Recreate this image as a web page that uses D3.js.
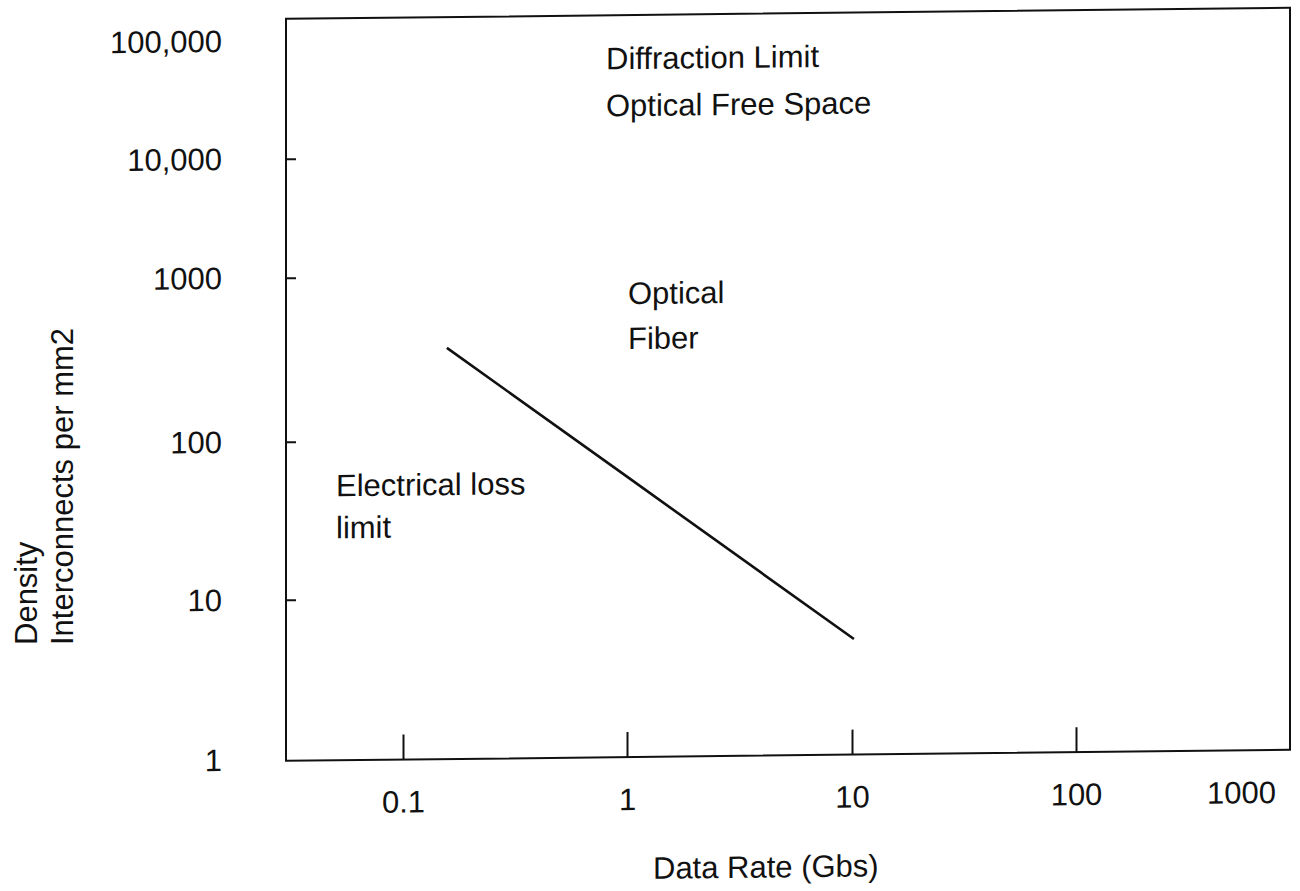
<!DOCTYPE html>
<html>
<head>
<meta charset="utf-8">
<script src="https://cdn.jsdelivr.net/npm/d3@7"></script>
<style>
  body { margin: 0; background: #fff; }
  svg text { font-family: "Liberation Sans", Arial, Helvetica, sans-serif; fill: #111; }
</style>
</head>
<body>
<div id="chart"></div>
<script>
// x axis: data rate (Gbs)
const xTickValues = [0.1, 1, 10, 100, 1000];
const xTickLabels = ["0.1", "1", "10", "100", "1000"];
const xTickMarks = [0.1, 1, 10, 100];

// y axis: interconnect density per mm2
const yTickValues = [1, 10, 100, 1000, 10000, 100000];
const yTickLabels = ["1", "10", "100", "1000", "10,000", "100,000"];
const yTickMarks = [10, 100, 1000, 10000];

// electrical loss limit line
const lineRate = [0.157, 1, 10.2];
const lineDensity = [365, 57, 5.2];

const annotations = [
  ["Diffraction Limit", "Optical Free Space"],
  ["Optical", "Fiber"],
  ["Electrical loss", "limit"]
];

const width = 1300, height = 891;
const box = { left: 286, right: 1290, top: 22, bottom: 764 };
const fontSize = 31;

const svg = d3.select("#chart").append("svg")
    .attr("width", width)
    .attr("height", height);

// the scanned page is slightly skewed
const g = svg.append("g").attr("transform", "skewY(-0.63)");

// hand-drawn axes: decades are not evenly spaced, so piecewise log scales
const x = d3.scaleLog()
    .domain(xTickValues)
    .range([403, 627, 852, 1076, 1241]);

const y = d3.scaleLog()
    .domain(yTickValues)
    .range([763, 603, 445, 281, 162, 44]);

// frame
g.append("rect")
    .attr("x", box.left)
    .attr("y", box.top)
    .attr("width", box.right - box.left)
    .attr("height", box.bottom - box.top)
    .attr("fill", "none")
    .attr("stroke", "#111")
    .attr("stroke-width", 2);

// x axis
const xAxis = g.append("g")
    .attr("transform", `translate(0,${box.bottom})`)
    .call(d3.axisBottom(x)
        .tickValues(xTickValues)
        .tickFormat((d, i) => xTickLabels[i])
        .tickSizeInner(-25)
        .tickSizeOuter(0)
        .tickPadding(31));
xAxis.select(".domain").remove();
xAxis.selectAll(".tick line")
    .attr("stroke", "#111")
    .attr("stroke-width", 2)
    .attr("display", d => xTickMarks.includes(d) ? null : "none");
xAxis.selectAll(".tick text")
    .attr("font-size", fontSize)
    .attr("fill", "#111");

// y axis
const yAxis = g.append("g")
    .attr("transform", `translate(${box.left},0)`)
    .call(d3.axisLeft(y)
        .tickValues(yTickValues)
        .tickFormat((d, i) => yTickLabels[i])
        .tickSizeInner(-10)
        .tickSizeOuter(0)
        .tickPadding(64));
yAxis.select(".domain").remove();
yAxis.selectAll(".tick line")
    .attr("stroke", "#111")
    .attr("stroke-width", 2)
    .attr("display", d => yTickMarks.includes(d) ? null : "none");
yAxis.selectAll(".tick text")
    .attr("font-size", fontSize)
    .attr("fill", "#111");

// limit line
const lineData = lineRate.map((r, i) => ({ rate: r, density: lineDensity[i] }));
g.append("path")
    .datum(lineData)
    .attr("fill", "none")
    .attr("stroke", "#111")
    .attr("stroke-width", 2.6)
    .attr("d", d3.line().x(d => x(d.rate)).y(d => y(d.density)));

// region annotations
const annPos = [
  { x: 606, y: 76, gap: 47 },
  { x: 628, y: 311, gap: 45 },
  { x: 336, y: 500, gap: 42 }
];
annotations.forEach((lines, i) => {
    const t = g.append("text")
        .attr("x", annPos[i].x)
        .attr("y", annPos[i].y)
        .attr("font-size", fontSize);
    lines.forEach((s, j) => {
        t.append("tspan")
            .attr("x", annPos[i].x)
            .attr("dy", j === 0 ? 0 : annPos[i].gap)
            .text(s);
    });
});

// axis titles
g.append("text")
    .attr("x", 653)
    .attr("y", 886)
    .attr("font-size", fontSize)
    .text("Data Rate (Gbs)");

svg.append("text")
    .attr("transform", "translate(37,645) rotate(-90)")
    .attr("font-size", fontSize)
    .text("Density");

svg.append("text")
    .attr("transform", "translate(73,645) rotate(-90)")
    .attr("font-size", fontSize)
    .text("Interconnects per mm2");
</script>
</body>
</html>
